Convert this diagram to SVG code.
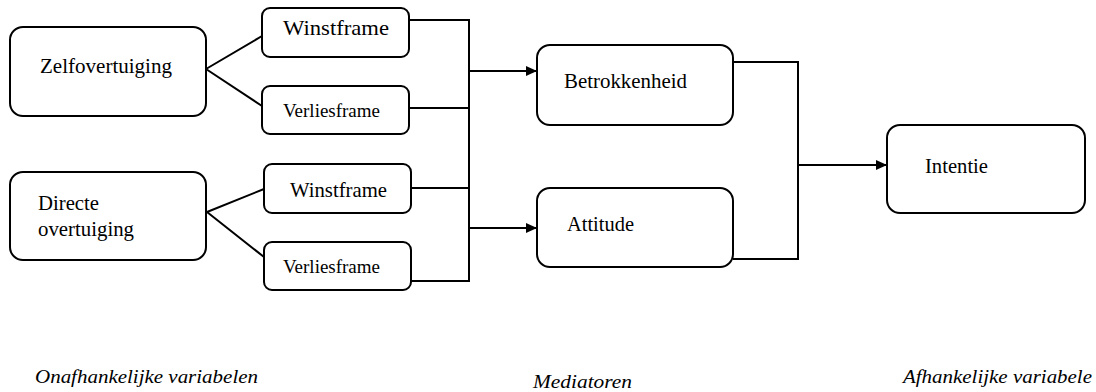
<svg xmlns="http://www.w3.org/2000/svg" width="1096" height="392" viewBox="0 0 1096 392">
<style>
.box{fill:#fff;stroke:#000;stroke-width:2}
.t{font-family:"Liberation Serif","Times New Roman",serif;font-size:21px;fill:#000}
.ts{font-family:"Liberation Serif","Times New Roman",serif;font-size:18.5px;fill:#000}
.lab{font-family:"Liberation Serif","Times New Roman",serif;font-style:italic;font-size:19px;fill:#000}
.c{fill:none;stroke:#000;stroke-width:2}
</style>
<defs>
<marker id="arr" markerUnits="userSpaceOnUse" markerWidth="11" markerHeight="10" refX="11" refY="5" orient="auto">
<path d="M0,0 L11,5 L0,10 z" fill="#000"/>
</marker>
</defs>
<rect width="1096" height="392" fill="#fff"/>
<g id="connectors">
<path class="c" d="M206,69 L262,36 M206,69 L262,106"/>
<path class="c" d="M207,212 L264,189 M207,212 L264,257"/>
<path class="c" d="M409,20 H469 M409,108 H469 M411,188 H469 M411,281 H469 M469,19 V282"/>
<path class="c" d="M469,71 H537" marker-end="url(#arr)"/>
<path class="c" d="M469,228 H537" marker-end="url(#arr)"/>
<path class="c" d="M733,62 H798 M733,259 H798 M798,61 V260"/>
<path class="c" d="M798,165 H887" marker-end="url(#arr)"/>
</g>
<g id="zelfovertuiging">
<rect class="box" x="10" y="27" width="196" height="89" rx="13"/>
<text class="t" x="40" y="73" textLength="132" lengthAdjust="spacingAndGlyphs">Zelfovertuiging</text>
</g>
<g id="winstframe1">
<rect class="box" x="262" y="8" width="147" height="49" rx="8"/>
<text class="t" x="283" y="35" textLength="106" lengthAdjust="spacingAndGlyphs">Winstframe</text>
</g>
<g id="verliesframe1">
<rect class="box" x="262" y="86" width="147" height="48" rx="8"/>
<text class="ts" x="283" y="117" textLength="97" lengthAdjust="spacingAndGlyphs">Verliesframe</text>
</g>
<g id="directe">
<rect class="box" x="10" y="172" width="196" height="88" rx="13"/>
<text class="t" x="38" y="210" textLength="61" lengthAdjust="spacingAndGlyphs">Directe</text>
<text class="t" x="38" y="236" textLength="96" lengthAdjust="spacingAndGlyphs">overtuiging</text>
</g>
<g id="winstframe2">
<rect class="box" x="264" y="164" width="147" height="49" rx="8"/>
<text class="t" x="290" y="197" textLength="97" lengthAdjust="spacingAndGlyphs">Winstframe</text>
</g>
<g id="verliesframe2">
<rect class="box" x="264" y="242" width="147" height="48" rx="8"/>
<text class="ts" x="283" y="273" textLength="97" lengthAdjust="spacingAndGlyphs">Verliesframe</text>
</g>
<g id="betrokkenheid">
<rect class="box" x="537" y="45" width="196" height="80" rx="13"/>
<text class="t" x="564" y="88" textLength="123" lengthAdjust="spacingAndGlyphs">Betrokkenheid</text>
</g>
<g id="attitude">
<rect class="box" x="537" y="188" width="196" height="79" rx="13"/>
<text class="t" x="567" y="231" textLength="67" lengthAdjust="spacingAndGlyphs">Attitude</text>
</g>
<g id="intentie">
<rect class="box" x="887" y="125" width="198" height="88" rx="13"/>
<text class="t" x="925" y="173" textLength="63" lengthAdjust="spacingAndGlyphs">Intentie</text>
</g>
<g id="labels">
<text class="lab" x="35" y="383" textLength="223" lengthAdjust="spacingAndGlyphs">Onafhankelijke variabelen</text>
<text class="lab" x="533" y="388" textLength="99" lengthAdjust="spacingAndGlyphs">Mediatoren</text>
<text class="lab" x="903" y="383" textLength="189" lengthAdjust="spacingAndGlyphs">Afhankelijke variabele</text>
</g>
</svg>
